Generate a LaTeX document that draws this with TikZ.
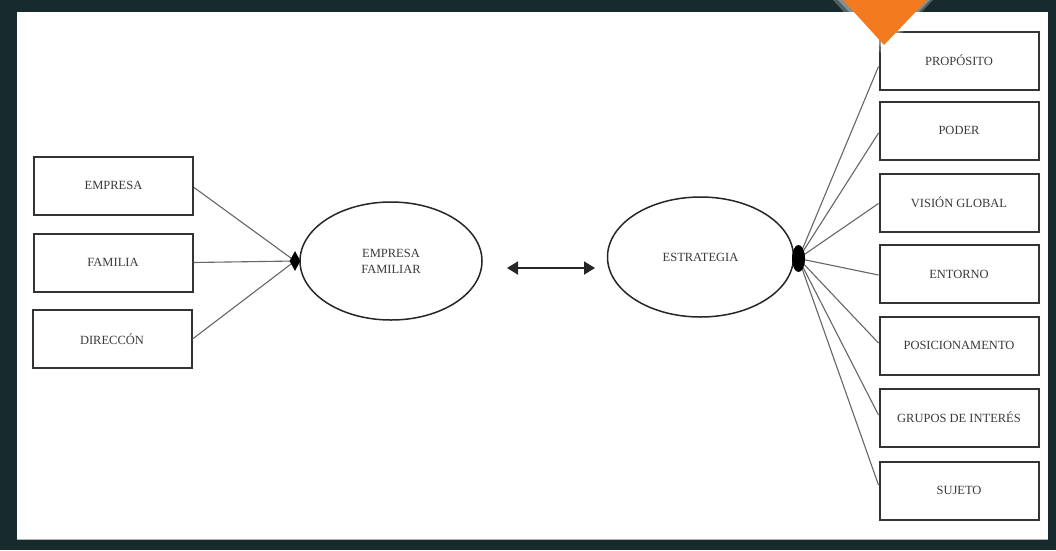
\documentclass[tikz,border=0pt]{standalone}
\usepackage{fontspec}
\setmainfont{Liberation Serif}
\usetikzlibrary{shapes.geometric,arrows.meta}
\definecolor{framecol}{HTML}{172A2E}
\definecolor{orng}{HTML}{F37A1F}
\definecolor{txt}{HTML}{3A3A3A}
\begin{document}
\begin{tikzpicture}[x=1pt,y=-1pt,
  box/.style={draw=black!80, line width=2pt, fill=white, minimum width=159pt, minimum height=58pt, inner sep=0pt, font=\fontsize{12.5}{16}\selectfont, text=txt},
  ell/.style={ellipse, draw=black!85, line width=1.5pt, fill=white, inner sep=0pt, font=\fontsize{12.5}{16}\selectfont, text=txt, align=center},
  link/.style={draw=black!60, line width=1.1pt},
  blob/.style={fill=black, draw=none, inner sep=0pt}]
\useasboundingbox (0,0) rectangle (1056,550);
% frame
\fill[framecol] (0,0) rectangle (1056,550);
\fill[white] (17,12) rectangle (1048,540);
\draw[black!30, line width=1pt] (17,539) -- (1048,539);
% left boxes
\node[box] (empresa) at (113.5,185.5) {EMPRESA};
\node[box] (familia) at (113,262.5) {FAMILIA};
\node[box] (direccion) at (112,339) {DIRECCÓN};
% ellipses
\node[ell, minimum width=182pt, minimum height=118pt] (ef) at (391,261) {EMPRESA\\FAMILIAR};
\node[ell, minimum width=186pt, minimum height=120pt] (est) at (700.5,257) {ESTRATEGIA};
% right boxes
\node[box] (proposito) at (959,60.5) {PROPÓSITO};
\node[box] (poder) at (959,130.5) {PODER};
\node[box] (vision) at (959,202.5) {VISIÓN GLOBAL};
\node[box] (entorno) at (959,274) {ENTORNO};
\node[box] (posic) at (959,345.5) {POSICIONAMENTO};
\node[box] (grupos) at (959,417.5) {GRUPOS DE INTERÉS};
\node[box] (sujeto) at (959,490.5) {SUJETO};
% junction points
\coordinate (lj) at (295,261);
\coordinate (rj) at (798.5,258.5);
% links left
\draw[link] ([yshift=-2pt]empresa.east) -- (lj);
\draw[link] (familia.east) -- (lj);
\draw[link] (direccion.east) -- (lj);
\node[blob, diamond, minimum width=11pt, minimum height=20pt] (ljb) at (lj) {};
% links right
\foreach \b/\d in {proposito/-6, poder/-2.5, vision/-1, entorno/-1, posic/2.5, grupos/2.5, sujeto/5.5}{
  \draw[link] (rj) -- ([yshift=\d pt]\b.west);
}
\node[blob, ellipse, minimum width=13pt, minimum height=27pt] (rjb) at (rj) {};
% double arrow
\coordinate (a1) at (507,268);
\coordinate (a2) at (595,268);
\draw[black!85, line width=1.8pt, {Triangle[length=11pt,width=13pt]}-{Triangle[length=11pt,width=13pt]}] (a1) -- (a2);
% orange marker with soft shadow
\fill[white, opacity=0.25] (833,0) -- (933,0) -- (882,54) -- cycle;
\fill[white, opacity=0.3] (838,0) -- (930,0) -- (883,49) -- cycle;
\fill[orng] (843,0) -- (927,0) -- (884,45) -- cycle;
\end{tikzpicture}
\end{document}
